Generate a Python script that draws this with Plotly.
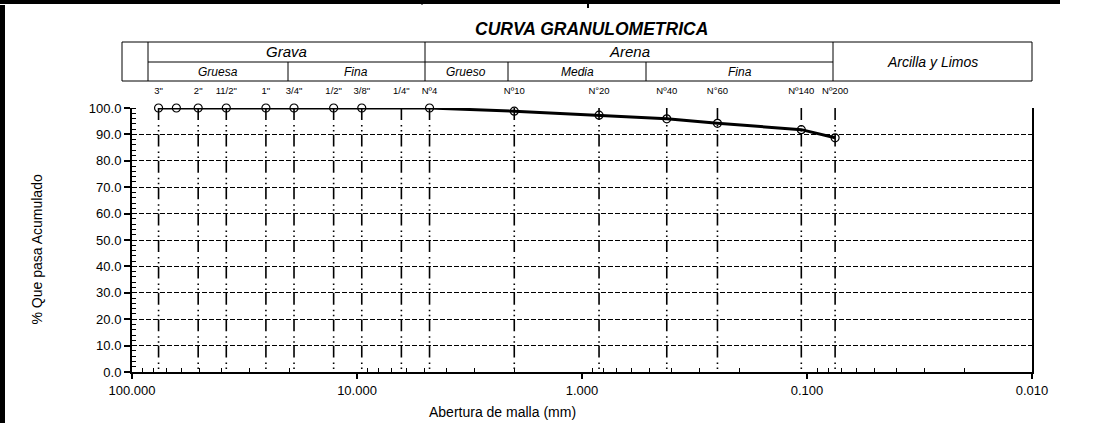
import plotly.graph_objects as go

# ---------------- data ----------------
sieve_size_mm = [76.2, 63.5, 50.8, 38.1, 25.4, 19.05, 12.7, 9.525, 4.76,
                 2.0, 0.84, 0.42, 0.25, 0.106, 0.075]
percent_passing = [100.0, 100.0, 100.0, 100.0, 100.0, 100.0, 100.0, 100.0, 100.0,
                   98.8, 97.3, 95.9, 94.2, 91.8, 88.7]

sieve_line_mm = [76.2, 50.8, 38.1, 25.4, 19.05, 12.7, 9.525, 6.35, 4.76,
                 2.0, 0.84, 0.42, 0.25, 0.106, 0.075]
sieve_line_labels = ['3"', '2"', '11/2"', '1"', '3/4"', '1/2"', '3/8"', '1/4"', 'Nº4',
                     'Nº10', 'N°20', 'Nº40', 'N°60', 'Nº140', 'Nº200']

x_tick_vals = [100, 10, 1, 0.1, 0.01]
x_tick_text = ["100.000", "10.000", "1.000", "0.100", "0.010"]
x_minor_vals = [m * 10 ** e for e in range(-2, 2) for m in range(2, 10)]

title_text = "CURVA GRANULOMETRICA"
y_title = "% Que pasa Acumulado"
x_title = "Abertura de malla (mm)"

# ---------------- layout geometry ----------------
W, H = 1101, 423
L, R, T, B = 132, 1032, 108, 372
FONT = "Arial, 'Liberation Sans', sans-serif"


def px(x):
    return (x - L) / (R - L)


def py(y):
    return (B - y) / (B - T)


fig = go.Figure()

# vertical sieve reference lines
vx, vy = [], []
for s in sieve_line_mm:
    vx += [s, s, None]
    vy += [100, 0, None]
fig.add_trace(go.Scatter(
    x=vx, y=vy, xaxis="x2", yaxis="y", mode="lines",
    line=dict(color="black", width=1.6, dash="12px,5px,1.5px,3.5px,1.5px,2.9px"),
    hoverinfo="skip", showlegend=False))

# grading curve
fig.add_trace(go.Scatter(
    x=sieve_size_mm, y=percent_passing, mode="lines+markers",
    line=dict(color="black", width=3),
    marker=dict(symbol="circle-open", size=8, color="black", line=dict(width=1.2)),
    cliponaxis=False, showlegend=False))

shapes = []


def hline(x0, x1, y, w=1):
    shapes.append(dict(type="line", xref="paper", yref="paper",
                       x0=px(x0), x1=px(x1), y0=py(y), y1=py(y),
                       line=dict(color="black", width=w)))


def vline(x, y0, y1, w=1):
    shapes.append(dict(type="line", xref="paper", yref="paper",
                       x0=px(x), x1=px(x), y0=py(y0), y1=py(y1),
                       line=dict(color="black", width=w)))


# header table
TOP, MID, BOT = 42, 62, 81
hline(122, 1032, TOP)
hline(122, 1032, BOT)
hline(148, 833, MID)
vline(122, TOP, BOT)
vline(1032, TOP, BOT)
for xv in [148, 425, 833]:
    vline(xv, TOP, BOT)
for xv in [288, 508, 646]:
    vline(xv, MID, BOT)

# outer frame fragments
shapes.append(dict(type="rect", xref="paper", yref="paper",
                   x0=px(0), x1=px(5), y0=py(5), y1=py(423),
                   line=dict(width=0), fillcolor="black"))
shapes.append(dict(type="rect", xref="paper", yref="paper",
                   x0=px(0), x1=px(1060), y0=py(0), y1=py(4),
                   line=dict(width=0), fillcolor="black"))
vline(588, 0, 8, 2)
vline(422, 0, 5, 1)

annotations = []


def label(text, x, y, size, angle=0):
    annotations.append(dict(text=text, x=px(x), y=py(y), xref="paper", yref="paper",
                            xanchor="center", yanchor="middle", showarrow=False,
                            textangle=angle, font=dict(family=FONT, size=size, color="black")))


label("<b><i>" + title_text + "</i></b>", 591, 29, 17.5)
label("<i>Grava</i>", 286, 52, 15)
label("<i>Arena</i>", 629, 52, 15)
label("<i>Gruesa</i>", 218, 71.5, 12)
label("<i>Fina</i>", 356, 71.5, 12)
label("<i>Grueso</i>", 466, 71.5, 12)
label("<i>Media</i>", 577, 71.5, 12)
label("<i>Fina</i>", 740, 71.5, 12)
label("<i>Arcilla y Limos</i>", 932, 61.5, 14)
label(y_title, 36.5, 250, 14, -90)
label(x_title, 502, 412, 14)

fig.update_layout(
    width=W, height=H, autosize=False,
    margin=dict(l=L, r=W - R, t=T, b=H - B, pad=0),
    paper_bgcolor="white", plot_bgcolor="white",
    font=dict(family=FONT, color="black", size=13),
    shapes=shapes, annotations=annotations,
    xaxis=dict(type="log", range=[2, -2], tickmode="array",
               tickvals=x_tick_vals, ticktext=x_tick_text,
               ticks="outside", ticklen=5, tickwidth=1.5, tickcolor="black",
               showline=True, linewidth=2, linecolor="black",
               showgrid=False, zeroline=False, tickfont=dict(size=13),
               minor=dict(tickmode="array", tickvals=x_minor_vals, ticks="inside",
                          ticklen=4, tickwidth=1, tickcolor="black", showgrid=False)),
    xaxis2=dict(type="log", range=[2, -2], overlaying="x", side="top",
                tickmode="array", tickvals=sieve_line_mm, ticktext=sieve_line_labels,
                ticks="outside", ticklen=9, tickcolor="rgba(0,0,0,0)",
                showline=False, showgrid=False, zeroline=False,
                tickfont=dict(size=9.5)),
    yaxis=dict(range=[0, 100], dtick=10, tickformat=".1f",
               ticks="outside", ticklen=6, tickwidth=1.5, tickcolor="black",
               showline=True, linewidth=2, linecolor="black", mirror=True,
               showgrid=True, gridcolor="black", griddash="5px,2px", gridwidth=1,
               zeroline=False, tickfont=dict(size=13),
               minor=dict(dtick=2, ticks="inside", ticklen=4, tickwidth=1,
                          tickcolor="black", showgrid=False)),
)

fig.write_html("out.html",
               config={"displayModeBar": False},
               post_script="document.body.style.margin='0';document.body.style.padding='0';document.body.style.overflow='hidden';")
